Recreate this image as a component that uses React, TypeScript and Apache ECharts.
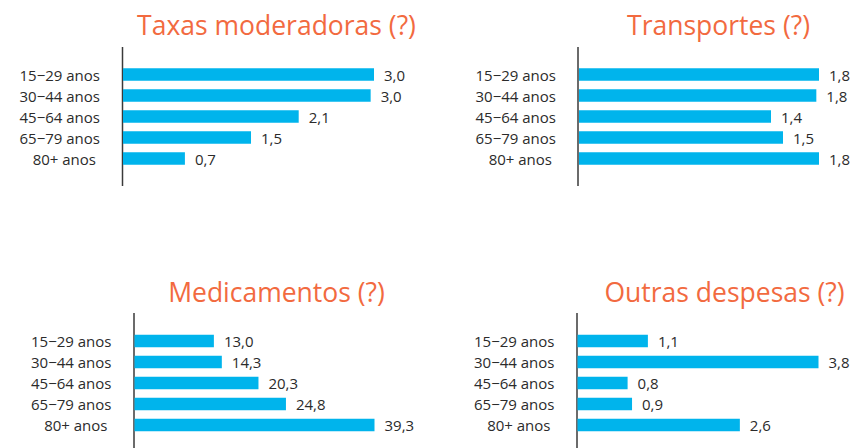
import React, { useEffect, useRef } from "react";
import * as echarts from "echarts";

const ageGroups = ["15−29 anos", "30−44 anos", "45−64 anos", "65−79 anos", "80+ anos"];
const taxasModeradoras = [3.0, 2.96, 2.1, 1.53, 0.74];
const transportes = [1.8, 1.78, 1.44, 1.53, 1.8];
const medicamentos = [13.0, 14.3, 20.3, 24.8, 39.3];
const outrasDespesas = [1.11, 3.8, 0.79, 0.86, 2.56];
const panelTitles = ["Taxas moderadoras (?)", "Transportes (?)", "Medicamentos (?)", "Outras despesas (?)"];

const FONT = "'Open Sans', 'Noto Sans', sans-serif";
const BAR = "#00B4EC";
const TITLE = "#F26A3F";
const TEXT = "#2b2b2b";

const panels = [
  { data: taxasModeradoras, left: 123, top: 64, width: 251, titleX: 276.5, titleY: 25, axisX: 122.5, axisY1: 47, axisY2: 186 },
  { data: transportes, left: 579, top: 64, width: 240, titleX: 718.5, titleY: 25, axisX: 578, axisY1: 47, axisY2: 186 },
  { data: medicamentos, left: 134.5, top: 330.5, width: 240, titleX: 276.5, titleY: 292, axisX: 134, axisY1: 313, axisY2: 448 },
  { data: outrasDespesas, left: 577.5, top: 330.5, width: 241, titleX: 724.5, titleY: 292, axisX: 577, axisY1: 313, axisY2: 448 },
];

const fmt = (v: number) => v.toFixed(1).replace(".", ",");

export default function App() {
  const ref = useRef<HTMLDivElement>(null);
  useEffect(() => {
    document.body.style.margin = "0";
    if (!ref.current) return;
    const chart = echarts.init(ref.current, null, { renderer: "svg" });
    const labelStyle = { fontSize: 15, fontFamily: FONT, color: TEXT };
    const option: any = {
      animation: false,
      backgroundColor: "#ffffff",
      grid: panels.map((p) => ({ left: p.left, top: p.top, width: p.width, height: 105 })),
      xAxis: panels.map((p, i) => ({
        type: "value",
        gridIndex: i,
        min: 0,
        max: Math.max(...p.data),
        show: false,
      })),
      yAxis: panels.map((p, i) => ({
        type: "category",
        gridIndex: i,
        data: ageGroups,
        inverse: true,
        axisLine: { show: false },
        axisTick: { show: false },
        splitLine: { show: false },
        axisLabel: {
          margin: 23,
          ...labelStyle,
          formatter: (v: string) => (v.startsWith("80+") ? "{p|" + v + "}" : v),
          rich: { p: { ...labelStyle, padding: [0, 4, 0, 0] } },
        },
      })),
      series: panels.map((p, i) => ({
        type: "bar",
        xAxisIndex: i,
        yAxisIndex: i,
        data: p.data,
        barWidth: 12.5,
        itemStyle: { color: BAR },
        label: {
          show: true,
          position: "right",
          distance: 10,
          ...labelStyle,
          formatter: (d: any) => fmt(d.value),
        },
      })),
      graphic: [
        ...panels.map((p, i) => ({
          type: "text",
          x: p.titleX,
          y: p.titleY,
          style: {
            text: panelTitles[i],
            fontSize: 26.5,
            fontFamily: FONT,
            fill: TITLE,
            textAlign: "center",
            textVerticalAlign: "middle",
          },
        })),
        ...panels.map((p) => ({
          type: "line",
          shape: { x1: p.axisX, y1: p.axisY1, x2: p.axisX, y2: p.axisY2 },
          style: { stroke: "#3a3a3a", lineWidth: 1.5 },
        })),
      ],
    };
    chart.setOption(option);
    return () => chart.dispose();
  }, []);
  return <div ref={ref} style={{ width: 853, height: 448 }} />;
}
